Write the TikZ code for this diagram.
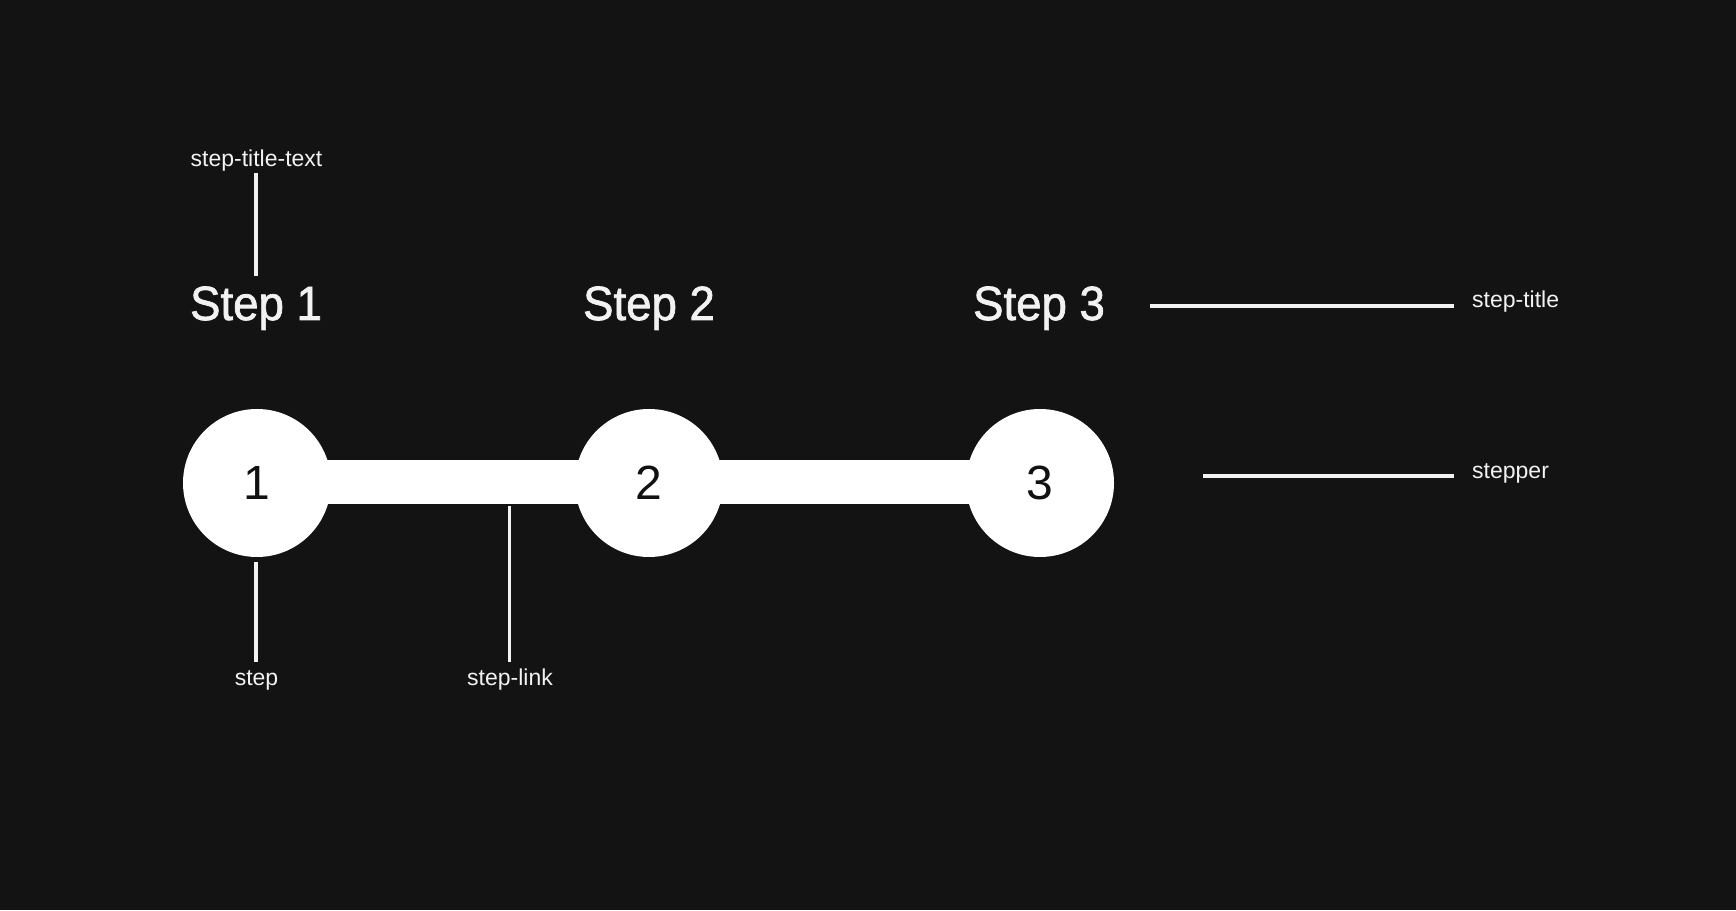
\documentclass[tikz,border=0pt]{standalone}
\usepackage{fontspec}
\setmainfont{Liberation Sans}
\newfontfamily\titlefont[FakeBold=1.5]{Liberation Sans}
\definecolor{bg}{RGB}{19,19,19}
\definecolor{fg}{RGB}{242,242,242}
\definecolor{ink}{RGB}{17,17,17}
\begin{document}
\begin{tikzpicture}[x=1pt,y=1pt,
  stepcircle/.style={circle,fill=white,minimum size=148pt,inner sep=0pt},
  digit/.style={text=ink,font=\fontsize{48}{48}\selectfont,anchor=base},
  titletext/.style={text=fg,font=\titlefont\fontsize{48}{48}\selectfont,anchor=base},
  annot/.style={text=fg,font=\fontsize{23}{23}\selectfont,inner sep=0pt},
  leader/.style={draw=fg,line width=3.5pt},
  hleader/.style={draw=fg,line width=4pt}]
\fill[bg] (0,0) rectangle (1736,910);
\useasboundingbox (0,0) rectangle (1736,910);
% link bar
\coordinate (c1) at (257,428);
\coordinate (c3) at (1040,428);
\draw[white,line width=44pt] (c1) -- (c3);
% steps
\node[stepcircle] (s1) at (257,427) {};
\node[stepcircle] (s2) at (649,427) {};
\node[stepcircle] (s3) at (1040,427) {};
\node[digit] (d1) at (257,410) {1};
\node[digit] (d2) at (649,410) {2};
\node[digit] (d3) at (1040,410) {3};
% titles
\node[titletext] (t1) at (256,590) {\scalebox{0.95}[1]{Step 1}};
\node[titletext] (t2) at (649,590) {\scalebox{0.95}[1]{Step 2}};
\node[titletext] (t3) at (1039,590) {\scalebox{0.95}[1]{Step 3}};
% annotations
\node[annot,anchor=base] (lt) at (256.5,743) {step-title-text};
\coordinate (lta) at (256,737);
\coordinate (ltb) at (256,634);
\draw[leader] (lta) -- (ltb);

\node[annot,anchor=base] (ls) at (256.5,224) {step};
\coordinate (lsa) at (256,348);
\coordinate (lsb) at (256,248);
\draw[leader] (lsa) -- (lsb);

\node[annot,anchor=base] (ll) at (510,224) {step-link};
\coordinate (lla) at (509.5,404);
\coordinate (llb) at (509.5,248);
\draw[leader] (lla) -- (llb);

\node[annot,anchor=base west] (lti) at (1472,602) {step-title};
\coordinate (ltia) at (1150,604);
\coordinate (ltib) at (1454,604);
\draw[hleader] (ltia) -- (ltib);

\node[annot,anchor=base west] (lsp) at (1472,431) {stepper};
\coordinate (lspa) at (1203,434);
\coordinate (lspb) at (1454,434);
\draw[hleader] (lspa) -- (lspb);
\end{tikzpicture}
\end{document}
